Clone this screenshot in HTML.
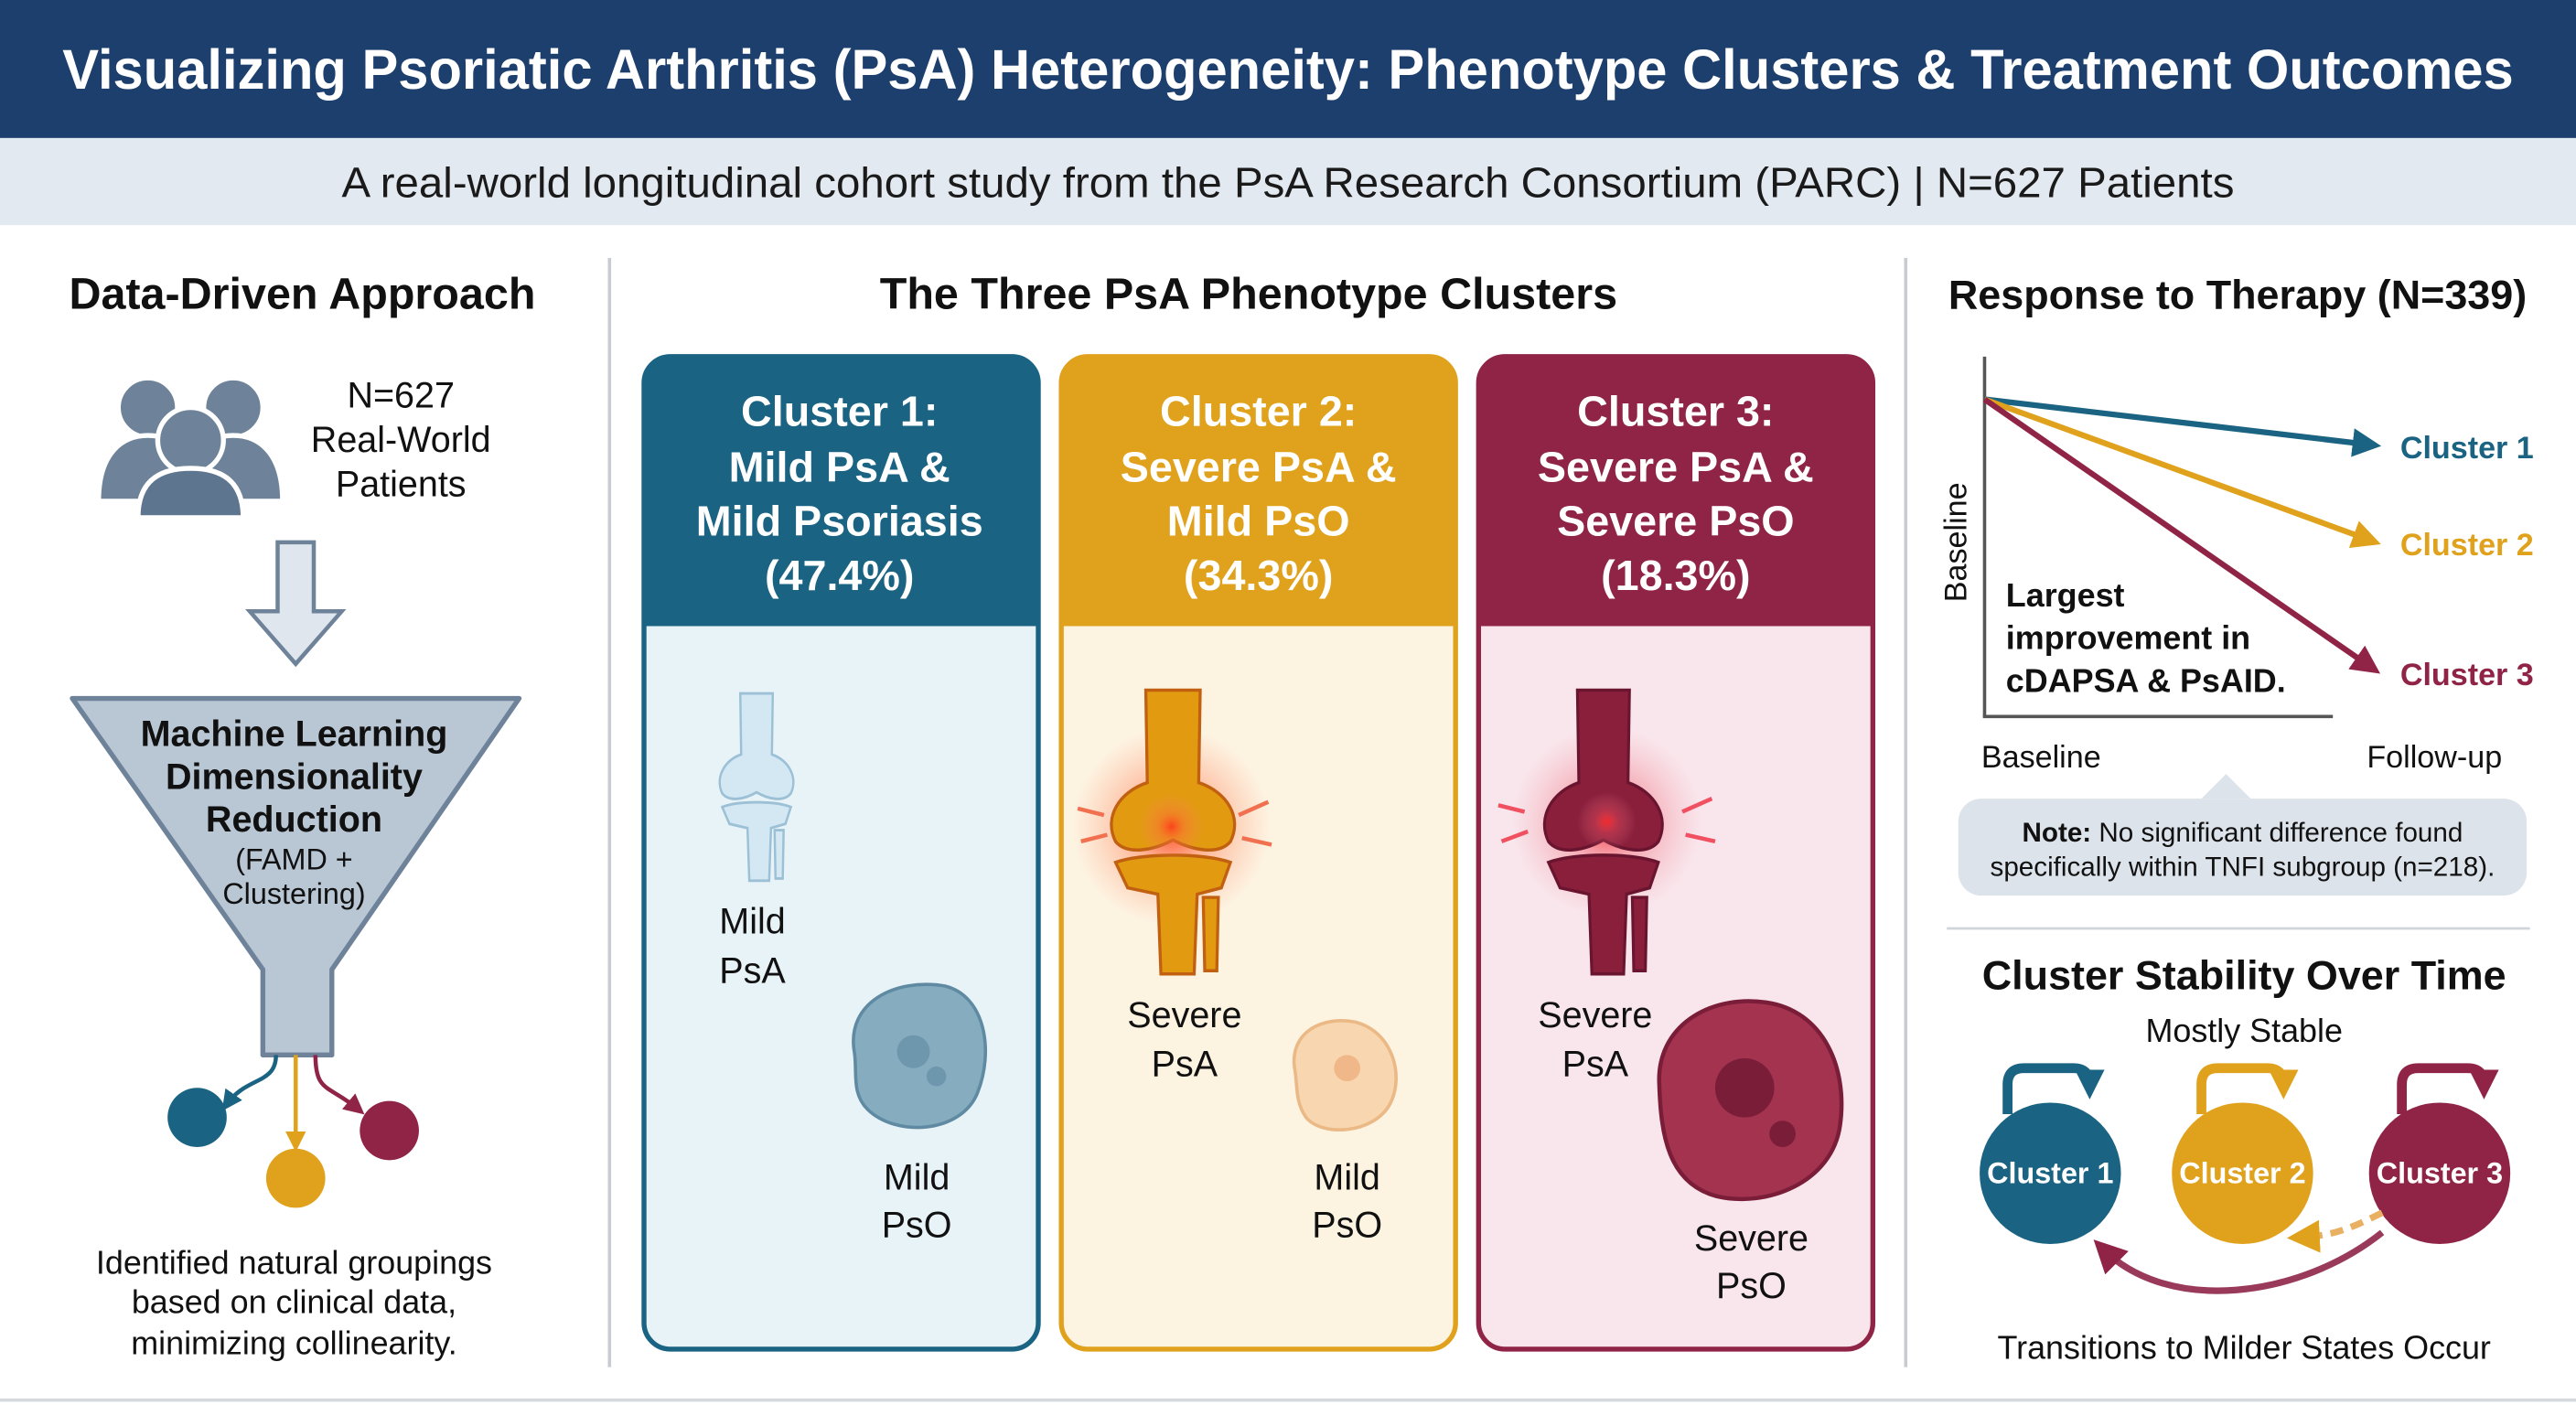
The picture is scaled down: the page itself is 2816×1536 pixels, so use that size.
<!DOCTYPE html>
<html><head><meta charset="utf-8"><style>
html,body{margin:0;padding:0;background:#fff;}
svg{display:block;}
text{font-family:"Liberation Sans",sans-serif;}
</style></head><body>
<svg width="2816" height="1536" viewBox="0 0 1568 855" preserveAspectRatio="none" xmlns="http://www.w3.org/2000/svg">
<defs>
<radialGradient id="glowO"><stop offset="0" stop-color="#ff3a1a" stop-opacity="0.9"/><stop offset="0.4" stop-color="#ff6a3a" stop-opacity="0.45"/><stop offset="1" stop-color="#ff8a6a" stop-opacity="0"/></radialGradient>
<radialGradient id="glowR"><stop offset="0" stop-color="#ff2a2a" stop-opacity="0.9"/><stop offset="0.4" stop-color="#f05060" stop-opacity="0.4"/><stop offset="1" stop-color="#f08090" stop-opacity="0"/></radialGradient>
<g id="knee">
<path d="M32,0 L68,0 L67,58 C86,64 96,80 88,95 C80,104 62,100 50,94 C38,100 20,104 12,95 C4,80 14,64 33,58 Z"/>
<path d="M12,108 C30,102 70,102 88,108 L82,124 L66,128 L64,178 L42,178 L40,128 L20,124 Z"/>
<path d="M70,130 L80,130 L79,176 L71,176 Z"/>
</g>
<marker id="aT" markerWidth="5" markerHeight="5" refX="4" refY="2.5" orient="auto" markerUnits="strokeWidth"><path d="M0,0 L5,2.5 L0,5 Z" fill="#1a6382"/></marker>
<marker id="aG" markerWidth="5" markerHeight="5" refX="4" refY="2.5" orient="auto" markerUnits="strokeWidth"><path d="M0,0 L5,2.5 L0,5 Z" fill="#e0a21d"/></marker>
<marker id="aM" markerWidth="5" markerHeight="5" refX="4" refY="2.5" orient="auto" markerUnits="strokeWidth"><path d="M0,0 L5,2.5 L0,5 Z" fill="#8f2447"/></marker>
<marker id="aG2" markerWidth="5" markerHeight="5" refX="3" refY="2.5" orient="auto" markerUnits="strokeWidth"><path d="M0,0 L5,2.5 L0,5 Z" fill="#e0a21d"/></marker>
<marker id="aM2" markerWidth="5" markerHeight="5" refX="3" refY="2.5" orient="auto" markerUnits="strokeWidth"><path d="M0,0 L5,2.5 L0,5 Z" fill="#8f2447"/></marker>
<marker id="aT2" markerWidth="5" markerHeight="5" refX="3" refY="2.5" orient="auto" markerUnits="strokeWidth"><path d="M0,0 L5,2.5 L0,5 Z" fill="#1a6382"/></marker>
<marker id="lT" markerWidth="3" markerHeight="3" refX="1.5" refY="1.5" orient="auto" markerUnits="strokeWidth"><path d="M0,0 L3,1.5 L0,3 Z" fill="#1a6382"/></marker>
<marker id="lG" markerWidth="3" markerHeight="3" refX="1.5" refY="1.5" orient="auto" markerUnits="strokeWidth"><path d="M0,0 L3,1.5 L0,3 Z" fill="#e0a21d"/></marker>
<marker id="lM" markerWidth="3" markerHeight="3" refX="1.5" refY="1.5" orient="auto" markerUnits="strokeWidth"><path d="M0,0 L3,1.5 L0,3 Z" fill="#8f2447"/></marker>
</defs>
<rect width="1568" height="855" fill="#ffffff"/>
<!-- header -->
<rect x="0" y="0" width="1568" height="84" fill="#1d3f6e"/>
<text x="38" y="54" textLength="1492" lengthAdjust="spacingAndGlyphs" font-size="34" font-weight="bold" fill="#fff">Visualizing Psoriatic Arthritis (PsA) Heterogeneity: Phenotype Clusters &amp; Treatment Outcomes</text>
<rect x="0" y="84" width="1568" height="53" fill="#e3e9f0"/>
<text x="208" y="120" textLength="1152" lengthAdjust="spacingAndGlyphs" font-size="26" fill="#1a1a1a">A real-world longitudinal cohort study from the PsA Research Consortium (PARC) | N=627 Patients</text>
<line x1="371" y1="157" x2="371" y2="832" stroke="#c8ccd2" stroke-width="2"/>
<line x1="1160" y1="157" x2="1160" y2="832" stroke="#c8ccd2" stroke-width="2"/>
<line x1="0" y1="852" x2="1568" y2="852" stroke="#d5d9de" stroke-width="2"/>

<!-- left column -->
<text x="184" y="188" text-anchor="middle" font-size="27" font-weight="bold" fill="#111">Data-Driven Approach</text>
<g fill="#6e8399" stroke="#fff" stroke-width="3">
<circle cx="90" cy="248" r="18"/><path d="M60,305 C60,275 75,265 90,265 C105,265 120,275 120,305 Z"/>
<circle cx="142" cy="248" r="18"/><path d="M112,305 C112,275 127,265 142,265 C157,265 172,275 172,305 Z"/>
<circle cx="116" cy="268" r="20"/><path d="M84,315 C84,292 98,285 116,285 C134,285 148,292 148,315 Z" fill="#5e7590"/>
</g>
<g font-size="22" fill="#111" text-anchor="middle">
<text x="244" y="248">N=627</text><text x="244" y="275">Real-World</text><text x="244" y="302">Patients</text>
</g>
<path d="M169,330 L191,330 L191,372 L208,372 L180,404 L152,372 L169,372 Z" fill="#dfe6ee" stroke="#6e8399" stroke-width="2.5"/>
<path d="M44,425 L316,425 L202,590 L202,642 L160,642 L160,590 Z" fill="#b9c6d4" stroke="#6e8399" stroke-width="3" stroke-linejoin="round"/>
<g text-anchor="middle" fill="#111">
<text x="179" y="454" font-size="22" font-weight="bold">Machine Learning</text>
<text x="179" y="480" font-size="22" font-weight="bold">Dimensionality</text>
<text x="179" y="506" font-size="22" font-weight="bold">Reduction</text>
<text x="179" y="529" font-size="18">(FAMD +</text>
<text x="179" y="550" font-size="18">Clustering)</text>
</g>
<path d="M168,642 C168,660 150,655 138,672" fill="none" stroke="#1a6382" stroke-width="2.5" marker-end="url(#aT2)"/>
<path d="M180,642 L180,696" fill="none" stroke="#e0a21d" stroke-width="2.5" marker-end="url(#aG2)"/>
<path d="M192,642 C192,665 200,660 218,675" fill="none" stroke="#8f2447" stroke-width="2.5" marker-end="url(#aM2)"/>
<circle cx="120" cy="680" r="18" fill="#1a6382"/><circle cx="180" cy="717" r="18" fill="#e0a21d"/><circle cx="237" cy="688" r="18" fill="#8f2447"/>
<g font-size="20" fill="#111" text-anchor="middle">
<text x="179" y="775">Identified natural groupings</text><text x="179" y="799">based on clinical data,</text><text x="179" y="824">minimizing collinearity.</text>
</g>

<!-- center -->
<text x="760" y="188" text-anchor="middle" font-size="27" font-weight="bold" fill="#111">The Three PsA Phenotype Clusters</text>
<rect x="392" y="217" width="240" height="604" rx="16" fill="#e8f3f8" stroke="#1a6382" stroke-width="3"/>
<path d="M392,381 L392,233 Q392,217 408,217 L616,217 Q632,217 632,233 L632,381 Z" fill="#1a6382"/>
<g text-anchor="middle" fill="#fff" font-size="26" font-weight="bold">
<text x="511" y="259">Cluster 1:</text><text x="511" y="293">Mild PsA &amp;</text><text x="511" y="326">Mild Psoriasis</text><text x="511" y="359">(47.4%)</text>
</g>
<use href="#knee" transform="translate(433,422) scale(0.55,0.64)" fill="#d4e8f3" stroke="#9cc0d6" stroke-width="2.5"/>
<g font-size="22" fill="#111" text-anchor="middle"><text x="458" y="568">Mild</text><text x="458" y="598">PsA</text>
<text x="558" y="724">Mild</text><text x="558" y="753">PsO</text></g>
<path d="M520,640 C515,610 545,595 575,600 C600,606 605,640 595,665 C585,690 545,692 528,675 C518,665 522,652 520,640 Z" fill="#86acc0" stroke="#5f8aa2" stroke-width="2"/>
<circle cx="556" cy="640" r="10" fill="#6e96ad"/><circle cx="570" cy="655" r="6" fill="#6e96ad"/>
<rect x="646" y="217" width="240" height="604" rx="16" fill="#fdf3e1" stroke="#e0a21d" stroke-width="3"/>
<path d="M646,381 L646,233 Q646,217 662,217 L870,217 Q886,217 886,233 L886,381 Z" fill="#e0a21d"/>
<g text-anchor="middle" fill="#fff" font-size="26" font-weight="bold">
<text x="766" y="259">Cluster 2:</text><text x="766" y="293">Severe PsA &amp;</text><text x="766" y="326">Mild PsO</text><text x="766" y="359">(34.3%)</text>
</g>
<circle cx="713" cy="503" r="60" fill="url(#glowO)"/>
<use href="#knee" transform="translate(668,420) scale(0.92,0.97)" fill="#e29a10" stroke="#c06010" stroke-width="2"/>
<circle cx="713" cy="503" r="20" fill="url(#glowO)"/>
<g stroke="#f07050" stroke-width="2.5"><line x1="656" y1="492" x2="672" y2="496"/><line x1="658" y1="512" x2="674" y2="508"/><line x1="754" y1="496" x2="772" y2="488"/><line x1="756" y1="510" x2="774" y2="514"/></g>
<g font-size="22" fill="#111" text-anchor="middle"><text x="721" y="625">Severe</text><text x="721" y="655">PsA</text>
<text x="820" y="724">Mild</text><text x="820" y="753">PsO</text></g>
<path d="M788,650 C785,628 805,618 825,622 C848,628 855,655 846,672 C836,690 805,692 795,680 C788,670 790,660 788,650 Z" fill="#f8d7b0" stroke="#ebb985" stroke-width="2"/>
<circle cx="820" cy="650" r="8" fill="#f0b888"/>
<rect x="900" y="217" width="240" height="604" rx="16" fill="#f9e6ec" stroke="#8f2447" stroke-width="3"/>
<path d="M900,381 L900,233 Q900,217 916,217 L1124,217 Q1140,217 1140,233 L1140,381 Z" fill="#8f2447"/>
<g text-anchor="middle" fill="#fff" font-size="26" font-weight="bold">
<text x="1020" y="259">Cluster 3:</text><text x="1020" y="293">Severe PsA &amp;</text><text x="1020" y="326">Severe PsO</text><text x="1020" y="359">(18.3%)</text>
</g>
<circle cx="978" cy="500" r="58" fill="url(#glowR)"/>
<use href="#knee" transform="translate(932,420) scale(0.88,0.97)" fill="#8a1f3c" stroke="#6a1530" stroke-width="2"/>
<circle cx="978" cy="500" r="18" fill="url(#glowR)"/>
<g stroke="#f05060" stroke-width="2.5"><line x1="912" y1="490" x2="928" y2="494"/><line x1="914" y1="512" x2="930" y2="506"/><line x1="1024" y1="494" x2="1042" y2="486"/><line x1="1026" y1="508" x2="1044" y2="512"/></g>
<g font-size="22" fill="#111" text-anchor="middle"><text x="971" y="625">Severe</text><text x="971" y="655">PsA</text>
<text x="1066" y="761">Severe</text><text x="1066" y="790">PsO</text></g>
<path d="M1010,660 C1008,625 1040,605 1075,610 C1110,615 1125,650 1120,685 C1115,720 1075,735 1045,728 C1015,720 1011,690 1010,660 Z" fill="#a3334f" stroke="#7a1d38" stroke-width="2.5"/>
<circle cx="1062" cy="662" r="18" fill="#7a1d38"/><circle cx="1085" cy="690" r="8" fill="#7a1d38"/>

<!-- right -->
<text x="1362" y="188" text-anchor="middle" font-size="25" font-weight="bold" fill="#111">Response to Therapy (N=339)</text>
<line x1="1208" y1="217" x2="1208" y2="436" stroke="#555" stroke-width="2"/>
<line x1="1207" y1="436" x2="1420" y2="436" stroke="#555" stroke-width="2"/>
<text transform="translate(1197,330) rotate(-90)" text-anchor="middle" font-size="19" fill="#111">Baseline</text>
<line x1="1208" y1="243" x2="1446" y2="271" stroke="#1a6382" stroke-width="3.5" marker-end="url(#aT)"/>
<line x1="1208" y1="243" x2="1446" y2="330" stroke="#e0a21d" stroke-width="3.5" marker-end="url(#aG)"/>
<line x1="1208" y1="243" x2="1446" y2="408" stroke="#8f2447" stroke-width="3.5" marker-end="url(#aM)"/>
<g font-size="19" font-weight="bold"><text x="1461" y="279" fill="#1a6382">Cluster 1</text><text x="1461" y="338" fill="#e0a21d">Cluster 2</text><text x="1461" y="417" fill="#8f2447">Cluster 3</text></g>
<g font-size="20" font-weight="bold" fill="#111"><text x="1221" y="369">Largest</text><text x="1221" y="395">improvement in</text><text x="1221" y="421">cDAPSA &amp; PsAID.</text></g>
<text x="1206" y="467" font-size="19" fill="#111">Baseline</text>
<text x="1523" y="467" text-anchor="end" font-size="19" fill="#111">Follow-up</text>
<path d="M1340,486 L1355,471 L1370,486 Z" fill="#dde3ea"/>
<rect x="1192" y="486" width="346" height="59" rx="14" fill="#dde3ea"/>
<text x="1365" y="512" text-anchor="middle" font-size="16.5" fill="#111"><tspan font-weight="bold">Note:</tspan> No significant difference found</text>
<text x="1365" y="533" text-anchor="middle" font-size="16.5" fill="#111">specifically within TNFI subgroup (n=218).</text>
<line x1="1185" y1="565" x2="1540" y2="565" stroke="#d0d5db" stroke-width="1.5"/>
<text x="1366" y="602" text-anchor="middle" font-size="25" font-weight="bold" fill="#111">Cluster Stability Over Time</text>
<text x="1366" y="634" text-anchor="middle" font-size="20" fill="#111">Mostly Stable</text>
<g fill="none" stroke-width="6">
<path d="M1222,678 L1222,660 Q1222,650 1232,650 L1262,650 Q1272,650 1272,660" stroke="#1a6382" marker-end="url(#lT)"/>
<path d="M1340,678 L1340,660 Q1340,650 1350,650 L1380,650 Q1390,650 1390,660" stroke="#e0a21d" marker-end="url(#lG)"/>
<path d="M1462,678 L1462,660 Q1462,650 1472,650 L1502,650 Q1512,650 1512,660" stroke="#8f2447" marker-end="url(#lM)"/>
</g>
<circle cx="1248" cy="714" r="43" fill="#1a6382"/><circle cx="1365" cy="714" r="43" fill="#e0a21d"/><circle cx="1485" cy="714" r="43" fill="#8f2447"/>
<g font-size="18" font-weight="bold" fill="#fff" text-anchor="middle"><text x="1248" y="720">Cluster 1</text><text x="1365" y="720">Cluster 2</text><text x="1485" y="720">Cluster 3</text></g>
<path d="M1450,750 C1400,790 1320,800 1280,760" fill="none" stroke="#9a3a5a" stroke-width="4" marker-end="url(#aM2)"/>
<path d="M1450,738 C1430,748 1420,752 1400,753" fill="none" stroke="#e8b060" stroke-width="4" stroke-dasharray="8,5" marker-end="url(#aG2)"/>
<text x="1366" y="827" text-anchor="middle" font-size="20" fill="#111">Transitions to Milder States Occur</text>
</svg>
</body></html>
